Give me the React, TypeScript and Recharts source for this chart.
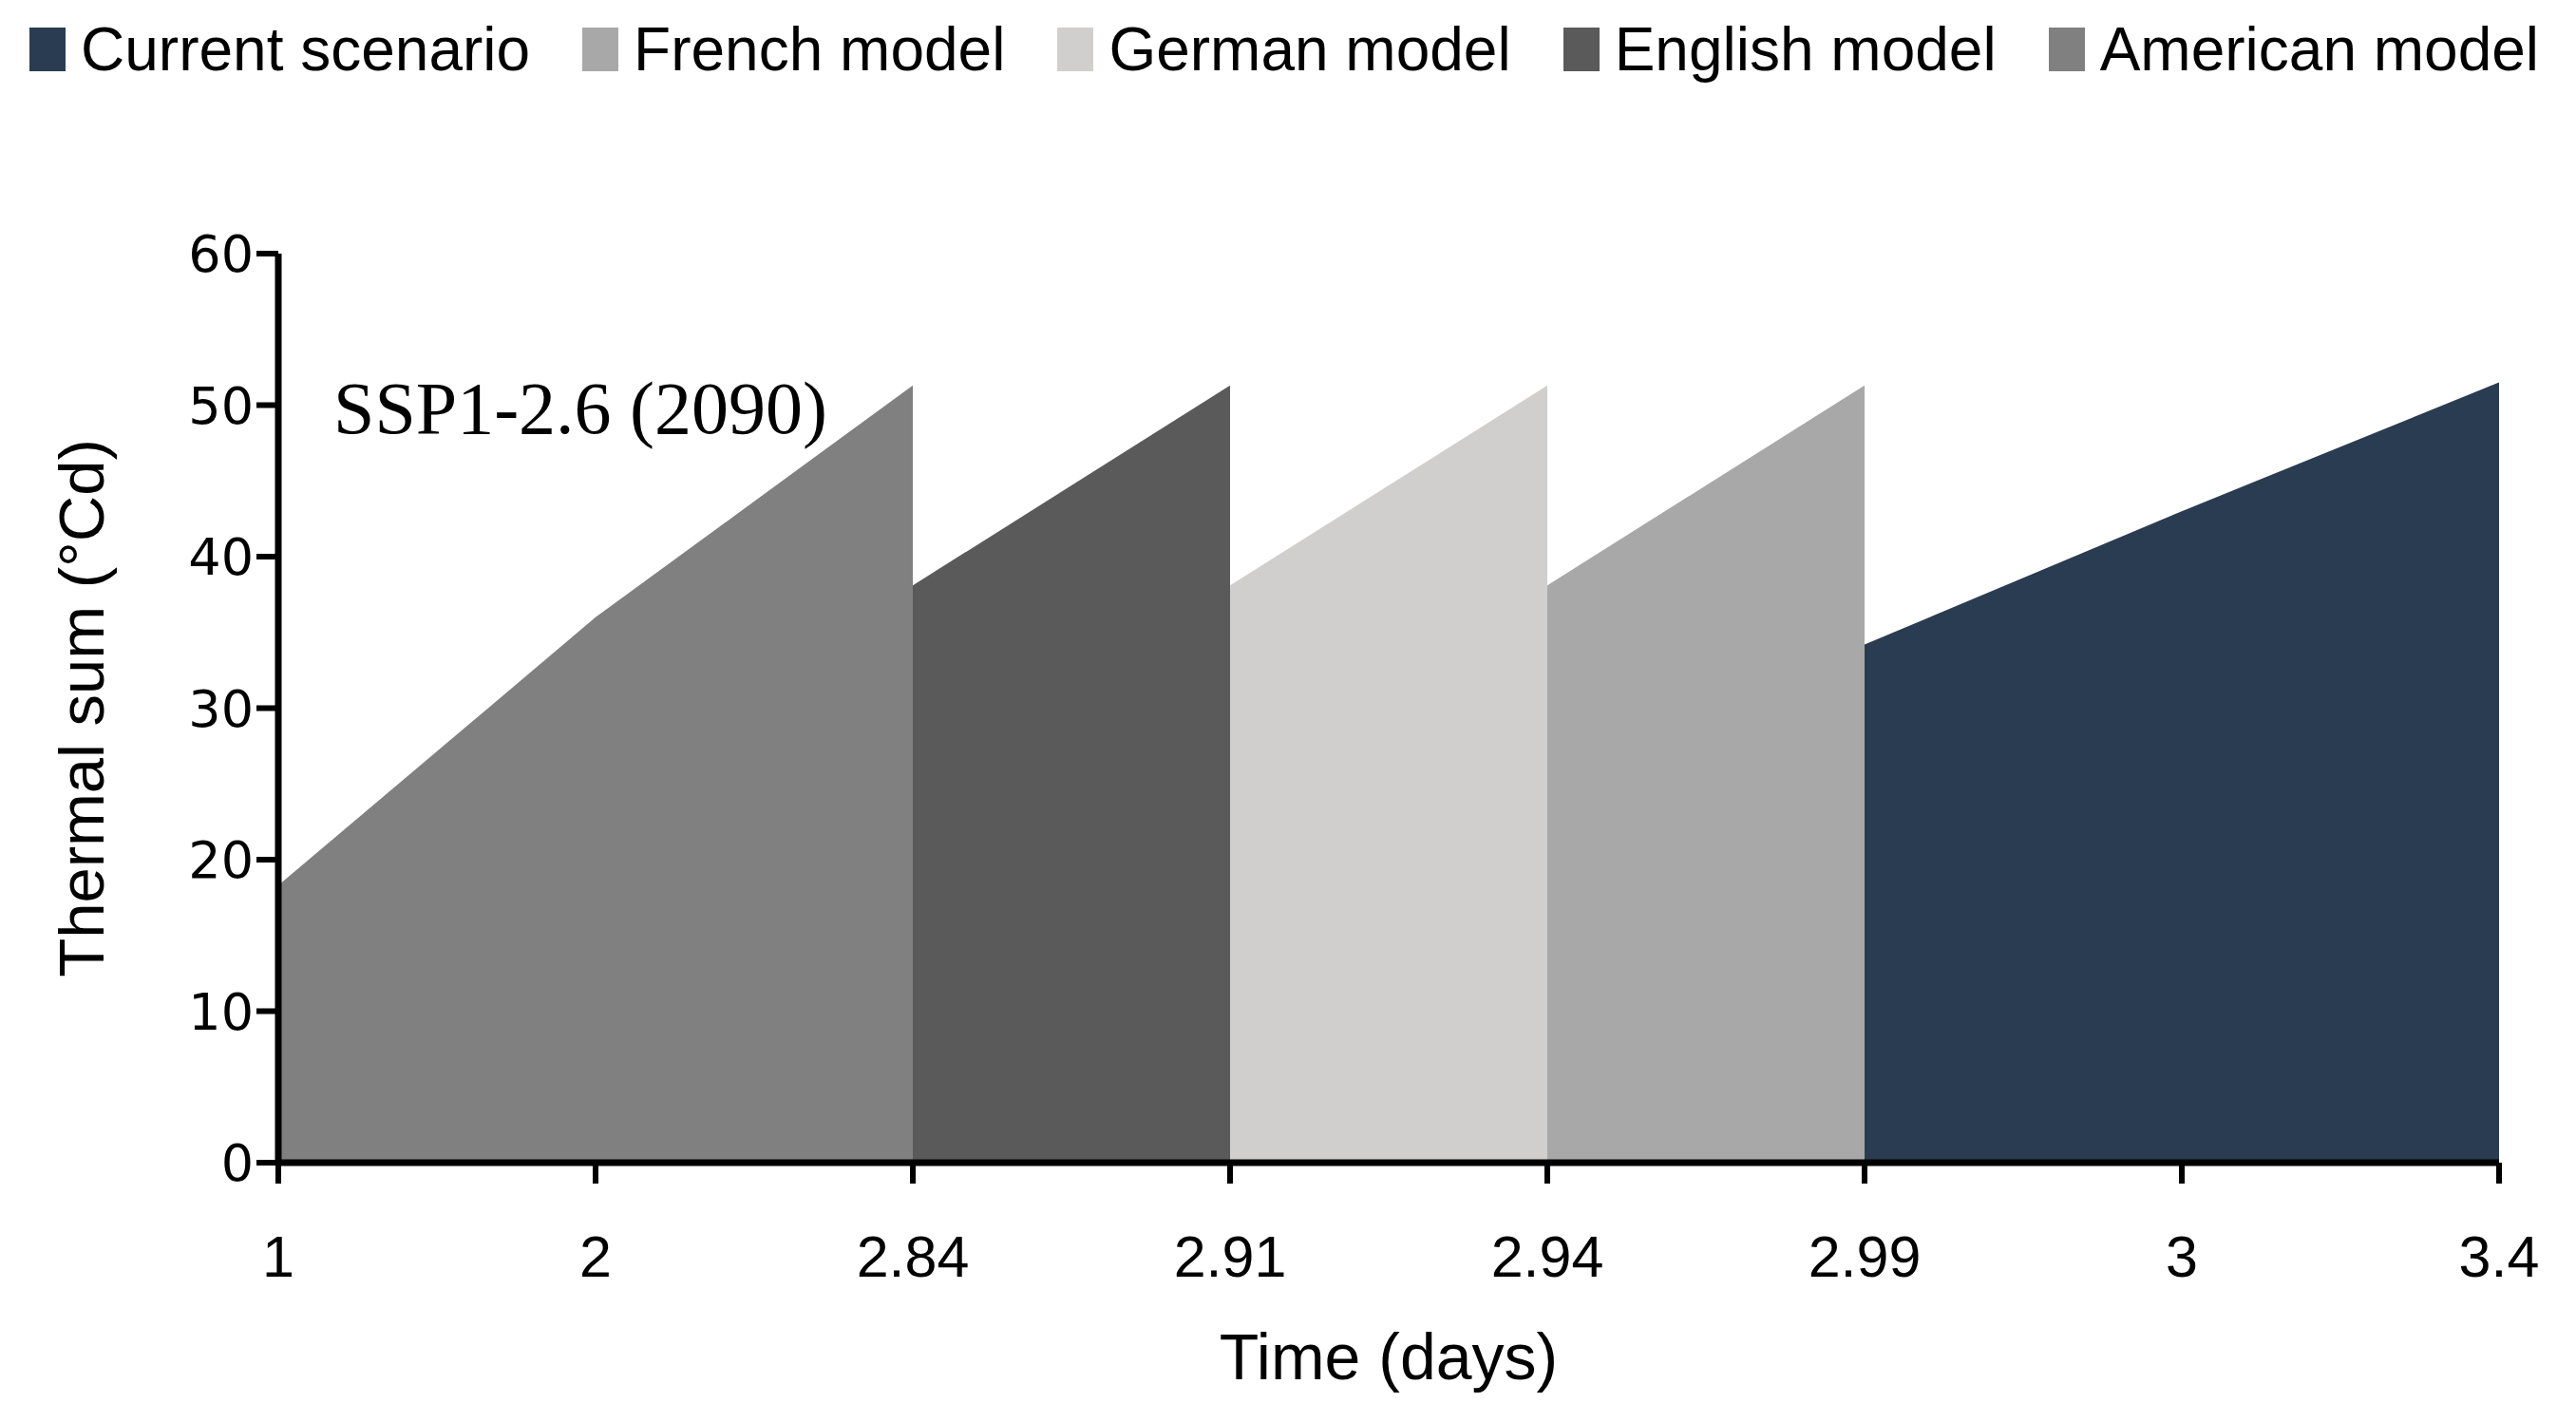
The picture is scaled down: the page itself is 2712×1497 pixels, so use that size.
import { AreaChart, Area, XAxis, YAxis } from 'recharts';

// time points (days) shown as equally spaced categories
const timeLabels = ['1', '2', '2.84', '2.91', '2.94', '2.99', '3', '3.4'];

// thermal sum (°Cd) per model, null where the model has no segment
const americanModel = [18.3, 36, 51.3, null, null, null, null, null];
const englishModel = [null, null, 38.1, 51.3, null, null, null, null];
const germanModel = [null, null, null, 38.1, 51.3, null, null, null];
const frenchModel = [null, null, null, null, 38.1, 51.3, null, null];
const currentScenario = [null, null, null, null, null, 34.2, 43, 51.5];

const yTicks = [0, 10, 20, 30, 40, 50, 60];

const series = [
  { key: 'current', name: 'Current scenario', color: '#293c51', values: currentScenario },
  { key: 'french', name: 'French model', color: '#a8a8a8', values: frenchModel },
  { key: 'german', name: 'German model', color: '#d0cfcd', values: germanModel },
  { key: 'english', name: 'English model', color: '#5a5a5a', values: englishModel },
  { key: 'american', name: 'American model', color: '#808080', values: americanModel },
];

const data = timeLabels.map((t, i) => {
  const row: Record<string, string | number | null> = { t };
  series.forEach((s) => {
    row[s.key] = s.values[i];
  });
  return row;
});

const SANS = "'Liberation Sans', Arial, sans-serif";

function ChartLegend() {
  return (
    <div
      style={{
        position: 'absolute',
        left: 31,
        top: 17,
        display: 'flex',
        alignItems: 'center',
        gap: 55,
        fontFamily: SANS,
        fontSize: 64,
        lineHeight: '70px',
        color: '#000',
        whiteSpace: 'nowrap',
      }}
    >
      {series.map((s) => (
        <div key={s.key} style={{ display: 'flex', alignItems: 'center', gap: 16 }}>
          <span style={{ display: 'inline-block', width: 38, height: 46, background: s.color }} />
          <span>{s.name}</span>
        </div>
      ))}
    </div>
  );
}

export default function App() {
  return (
    <div style={{ position: 'absolute', left: 0, top: 0, width: 2712, height: 1497, background: '#fff' }}>
      <ChartLegend />
      <AreaChart width={2712} height={1497} data={data} margin={{ top: 267, right: 81, bottom: 0, left: 0 }}>
        {[...series].reverse().map((s) => (
          <Area
            key={s.key}
            type="linear"
            dataKey={s.key}
            name={s.name}
            fill={s.color}
            fillOpacity={1}
            stroke="none"
            dot={false}
            activeDot={false}
            connectNulls={false}
            isAnimationActive={false}
          />
        ))}
        <XAxis
          dataKey="t"
          interval={0}
          height={273}
          tickSize={22}
          tickMargin={55}
          axisLine={{ stroke: '#000', strokeWidth: 7 }}
          tickLine={{ stroke: '#000', strokeWidth: 6 }}
          tick={{ fontSize: 61, fontFamily: SANS, fill: '#000' }}
          label={{
            value: 'Time (days)',
            position: 'center',
            dy: 67,
            fontSize: 68,
            fontFamily: SANS,
            fill: '#000',
          }}
        />
        <YAxis
          width={293}
          domain={[0, 60]}
          ticks={yTicks}
          tickSize={23}
          tickMargin={3}
          axisLine={{ stroke: '#000', strokeWidth: 7 }}
          tickLine={{ stroke: '#000', strokeWidth: 6 }}
          tick={{ fontSize: 54, fontFamily: "'DejaVu Sans', sans-serif", fill: '#000' }}
          label={{
            value: 'Thermal sum (°Cd)',
            position: 'center',
            angle: -90,
            dx: -61,
            fontSize: 67,
            fontFamily: SANS,
            fill: '#000',
          }}
        />
      </AreaChart>
      <div
        style={{
          position: 'absolute',
          left: 351,
          top: 391,
          fontFamily: "'Liberation Serif', 'Times New Roman', serif",
          fontSize: 78,
          lineHeight: '78px',
          color: '#000',
          whiteSpace: 'nowrap',
        }}
      >
        SSP1-2.6 (2090)
      </div>
    </div>
  );
}
